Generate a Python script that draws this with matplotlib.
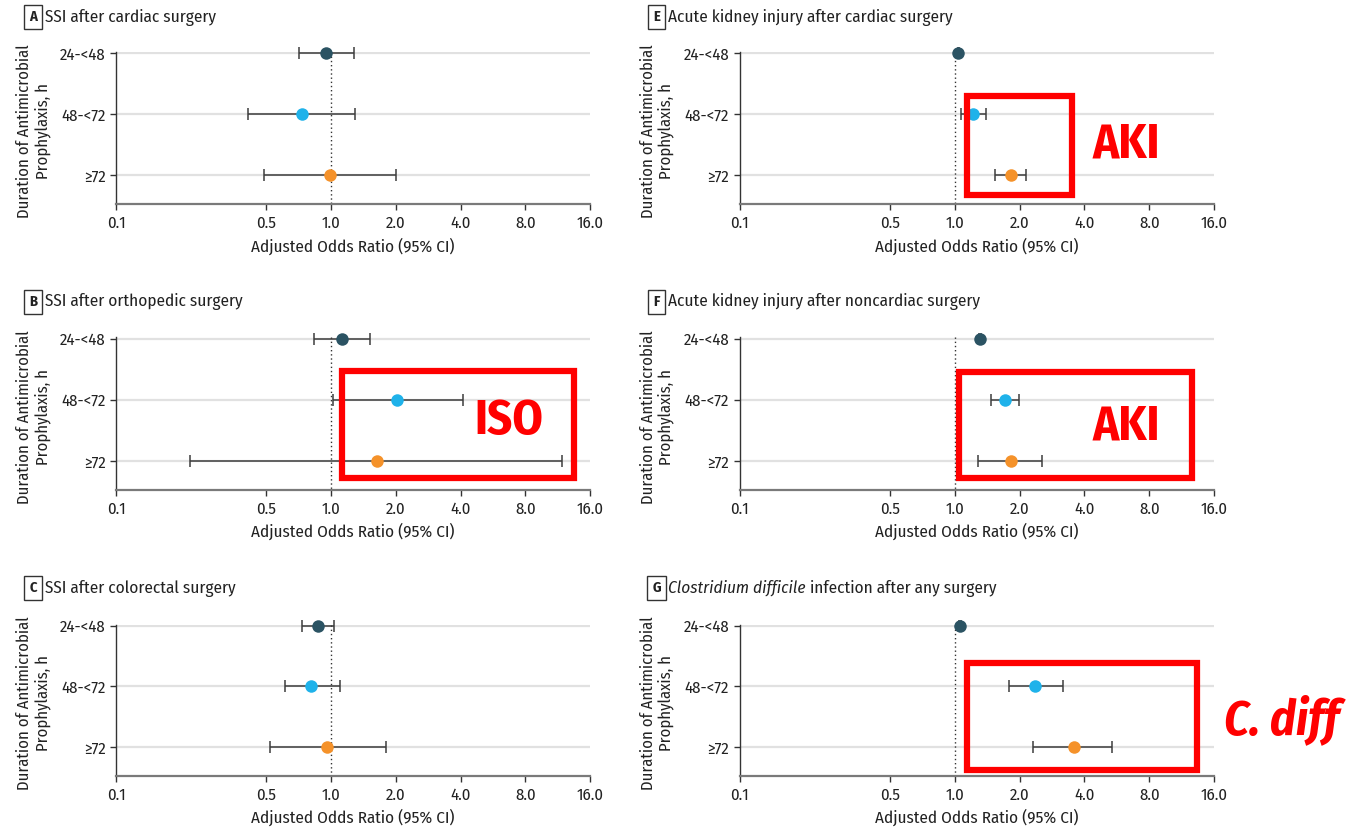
import matplotlib
matplotlib.use("Agg")
import matplotlib.pyplot as plt
from matplotlib.patches import Rectangle

plt.rcParams['font.family'] = ['Fira Sans Condensed', 'DejaVu Sans']

W, H = 1347, 830

categories = ["24-<48", "48-<72", "≥72"]
xticks = [0.1, 0.5, 1.0, 2.0, 4.0, 8.0, 16.0]
xtick_labels = ["0.1", "0.5", "1.0", "2.0", "4.0", "8.0", "16.0"]
point_colors = ["#2b5363", "#1fb2ea", "#f5922a"]

# Adjusted odds ratios with 95% CI (lower, upper) per duration category
ssi_cardiac_or = [0.95, 0.73, 0.99]
ssi_cardiac_lo = [0.71, 0.41, 0.49]
ssi_cardiac_hi = [1.28, 1.29, 2.00]

ssi_ortho_or = [1.12, 2.02, 1.64]
ssi_ortho_lo = [0.83, 1.02, 0.22]
ssi_ortho_hi = [1.52, 4.10, 11.9]

ssi_colorectal_or = [0.87, 0.81, 0.96]
ssi_colorectal_lo = [0.73, 0.61, 0.52]
ssi_colorectal_hi = [1.03, 1.10, 1.80]

aki_cardiac_or = [1.04, 1.22, 1.83]
aki_cardiac_lo = [1.03, 1.07, 1.54]
aki_cardiac_hi = [1.05, 1.40, 2.14]

aki_noncardiac_or = [1.31, 1.71, 1.83]
aki_noncardiac_lo = [1.30, 1.47, 1.28]
aki_noncardiac_hi = [1.32, 1.99, 2.54]

cdiff_or = [1.06, 2.36, 3.58]
cdiff_lo = [1.05, 1.79, 2.31]
cdiff_hi = [1.07, 3.18, 5.37]

panels = [
    ("A", "SSI after cardiac surgery", None, ssi_cardiac_or, ssi_cardiac_lo, ssi_cardiac_hi, 0, 0),
    ("B", "SSI after orthopedic surgery", None, ssi_ortho_or, ssi_ortho_lo, ssi_ortho_hi, 0, 1),
    ("C", "SSI after colorectal surgery", None, ssi_colorectal_or, ssi_colorectal_lo, ssi_colorectal_hi, 0, 2),
    ("E", "Acute kidney injury after cardiac surgery", None, aki_cardiac_or, aki_cardiac_lo, aki_cardiac_hi, 1, 0),
    ("F", "Acute kidney injury after noncardiac surgery", None, aki_noncardiac_or, aki_noncardiac_lo, aki_noncardiac_hi, 1, 1),
    ("G", "Clostridium difficile", " infection after any surgery", cdiff_or, cdiff_lo, cdiff_hi, 1, 2),
]

col_x = [(116, 590), (739.5, 1214)]
row_y = [(52, 204.5), (337.5, 490), (624.5, 776)]
title_y = [17, 302, 588]
letter_x = [33, 656.5]
title_x = [45, 668]

TXT = "#222222"

fig = plt.figure(figsize=(W / 100, H / 100), dpi=100)
renderer = fig.canvas.get_renderer()


def fx(px):
    return px / W


def fy(py):
    return 1 - py / H


for letter, title, title_rest, ors, los, his, col, row in panels:
    x0, x1 = col_x[col]
    y0, y1 = row_y[row]
    ax = fig.add_axes([fx(x0), fy(y1), fx(x1 - x0), (y1 - y0) / H])
    ypos = list(range(len(categories)))

    for yv in ypos:
        ax.axhline(yv, color="#e1e1e1", lw=1.6, zorder=0)
    ax.plot([1.0, 1.0], [-0.02, 2.476], color="#333333", lw=1.0,
            linestyle=(0, (1, 2)), zorder=1)

    for i in ypos:
        eb = ax.errorbar(ors[i], i, xerr=[[ors[i] - los[i]], [his[i] - ors[i]]], fmt="none",
                         ecolor="#3d3d3d", elinewidth=1.1, capsize=4.2, capthick=1.1, zorder=2)
        for artist in eb.get_children():
            artist.set_clip_on(False)
        ax.plot(ors[i], i, "o", ms=9, color=point_colors[i], mec="none", zorder=3,
                clip_on=False)

    ax.set_xscale("log")
    ax.set_xlim(0.1, 16)
    ax.set_ylim(2.476, -0.02)
    ax.set_xticks(xticks)
    ax.set_xticklabels(xtick_labels)
    ax.xaxis.set_minor_locator(matplotlib.ticker.NullLocator())
    ax.set_yticks(ypos)
    ax.set_yticklabels(categories)
    ax.tick_params(axis="both", labelsize=12, colors="#333333", length=4, width=1, pad=3.5)
    ax.tick_params(axis="x", labelcolor=TXT, pad=4)
    ax.tick_params(axis="y", labelcolor=TXT)
    for s in ("top", "right"):
        ax.spines[s].set_visible(False)
    ax.spines["left"].set_color("#333333")
    ax.spines["left"].set_linewidth(1.0)
    ax.spines["bottom"].set_color("#7a7a7a")
    ax.spines["bottom"].set_linewidth(1.6)
    ax.set_xlabel("Adjusted Odds Ratio (95% CI)", fontsize=12.3, color=TXT, labelpad=4)
    ax.set_ylabel("Duration of Antimicrobial\nProphylaxis, h", fontsize=12,
                  color=TXT, linespacing=1.1)
    ax.yaxis.set_label_coords(-0.138, 0.48)

    # panel letter box and title
    fig.text(fx(letter_x[col]), fy(title_y[row]), letter, fontsize=10.5, fontweight="bold",
             ha="center", va="center", color=TXT,
             bbox=dict(boxstyle="square,pad=0.35", fc="white", ec="#333333", lw=1.0))
    if title_rest is None:
        fig.text(fx(title_x[col]), fy(title_y[row]), title, fontsize=12.4,
                 ha="left", va="center", color=TXT)
    else:
        t1 = fig.text(fx(title_x[col]), fy(title_y[row]), title, fontsize=12.4,
                      style="italic", ha="left", va="center", color=TXT)
        bb = t1.get_window_extent(renderer=renderer)
        fig.text(bb.x1 / W, fy(title_y[row]), title_rest, fontsize=12.4,
                 ha="left", va="center", color=TXT)

# red highlight boxes and labels
red = "#ff0000"
boxes = [(342, 371, 574, 478), (967, 96, 1072, 195), (959, 372, 1192, 478), (967, 663, 1197, 770)]
for bx0, by0, bx1, by1 in boxes:
    fig.patches.append(Rectangle((fx(bx0), fy(by1)), fx(bx1 - bx0), (by1 - by0) / H,
                                 transform=fig.transFigure, fill=False, ec=red, lw=4.5))

fig.text(fx(509), fy(421), "ISO", fontsize=35, fontweight="bold", color=red, ha="center", va="center")
fig.text(fx(1126), fy(145), "AKI", fontsize=35, fontweight="bold", color=red, ha="center", va="center")
fig.text(fx(1126), fy(427), "AKI", fontsize=35, fontweight="bold", color=red, ha="center", va="center")
fig.text(fx(1282), fy(720), "C. diff", fontsize=35, fontweight="bold", style="italic",
         color=red, ha="center", va="center")

fig.savefig("out.png", dpi=100, facecolor="white")
